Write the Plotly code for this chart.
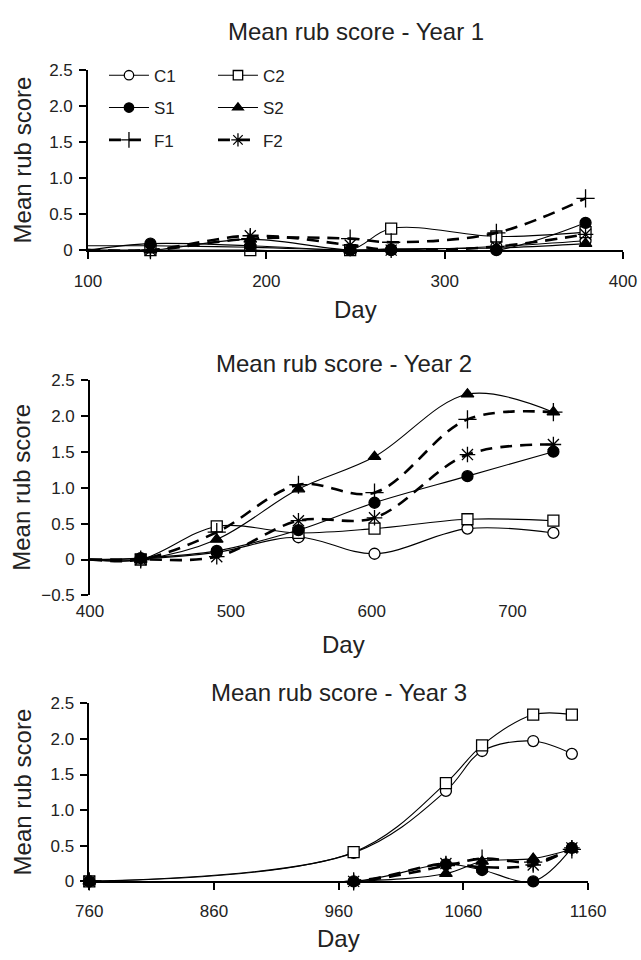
import plotly.graph_objects as go

# ---------------- data ----------------
series_names = ["C1", "C2", "S1", "S2", "F1", "F2"]

# Year 1
days_y1 = [100, 135, 191, 247, 270, 329, 379]
c1_y1 = [0.06, 0.06, 0.04, 0.00, 0.00, 0.05, 0.13]
c2_y1 = [0.00, 0.00, 0.00, 0.00, 0.30, 0.19, 0.25]
s1_y1 = [0.00, 0.09, 0.06, 0.00, 0.01, 0.00, 0.38]
s2_y1 = [0.00, 0.00, 0.15, 0.00, 0.02, 0.03, 0.09]
f1_y1 = [0.00, 0.00, 0.16, 0.16, 0.11, 0.24, 0.72]
f2_y1 = [0.00, 0.00, 0.20, 0.07, 0.00, 0.05, 0.22]

# Year 2
days_y2 = [400, 436, 490, 548, 602, 668, 729]
c1_y2 = [0.00, 0.01, 0.10, 0.31, 0.08, 0.43, 0.37]
c2_y2 = [0.00, 0.00, 0.46, 0.37, 0.43, 0.56, 0.54]
s1_y2 = [0.00, 0.02, 0.12, 0.41, 0.79, 1.16, 1.50]
s2_y2 = [0.00, 0.00, 0.28, 0.98, 1.43, 2.30, 2.05]
f1_y2 = [0.00, 0.00, 0.38, 1.04, 0.93, 1.95, 2.05]
f2_y2 = [0.00, 0.00, 0.04, 0.54, 0.58, 1.46, 1.60]

# Year 3
days_y3 = [760, 972, 1046, 1075, 1116, 1147]
c1_y3 = [0.00, 0.40, 1.27, 1.83, 1.97, 1.79]
c2_y3 = [0.00, 0.41, 1.38, 1.91, 2.34, 2.34]
s1_y3 = [0.00, 0.00, 0.24, 0.16, 0.00, 0.47]
s2_y3 = [0.00, 0.00, 0.11, 0.28, 0.32, 0.45]
f1_y3 = [0.00, 0.00, 0.22, 0.32, 0.27, 0.45]
f2_y3 = [0.00, 0.00, 0.25, 0.20, 0.23, 0.47]

panel_titles = ["Mean rub score - Year 1", "Mean rub score - Year 2", "Mean rub score - Year 3"]
x_title = "Day"
y_title = "Mean rub score"

x1_ticks = [100, 200, 300, 400]
x2_ticks = [400, 500, 600, 700]
x3_ticks = [760, 860, 960, 1060, 1160]
y_ticks = [0, 0.5, 1.0, 1.5, 2.0, 2.5]
y_ticktext = ["0", "0.5", "1.0", "1.5", "2.0", "2.5"]
y2_ticks = [-0.5, 0, 0.5, 1.0, 1.5, 2.0, 2.5]
y2_ticktext = ["\u22120.5", "0", "0.5", "1.0", "1.5", "2.0", "2.5"]

# ---------------- styling ----------------
W, H = 641, 960
ML, MR = 88, 17
PW = W - ML - MR
FONT = "Liberation Sans, Arial, sans-serif"
TICKF = 17
BIGF = 24

styles = {
    "C1": dict(symbol="circle", fill="#ffffff", dash="solid", lw=1.1, size=11),
    "C2": dict(symbol="square", fill="#ffffff", dash="solid", lw=1.1, size=11),
    "S1": dict(symbol="circle", fill="#000000", dash="solid", lw=1.1, size=11),
    "S2": dict(symbol="triangle-up", fill="#000000", dash="solid", lw=1.1, size=11),
    "F1": dict(symbol="cross-thin", fill="#000000", dash="12px,8px", lw=2.6, size=13),
    "F2": dict(symbol="asterisk", fill="#000000", dash="12px,8px", lw=2.6, size=13),
}
legend_of = {"C1": "legend", "C2": "legend", "S1": "legend2", "S2": "legend2",
             "F1": "legend3", "F2": "legend3"}

years = [
    (days_y1, [c1_y1, c2_y1, s1_y1, s2_y1, f1_y1, f2_y1], "x", "y", False),
    (days_y2, [c1_y2, c2_y2, s1_y2, s2_y2, f1_y2, f2_y2], "x2", "y2", False),
    (days_y3, [c1_y3, c2_y3, s1_y3, s2_y3, f1_y3, f2_y3], "x3", "y3", True),
]

fig = go.Figure()
for yi, (days, vals, xa, ya, first_marker) in enumerate(years):
    for name, v in zip(series_names, vals):
        st = styles[name]
        sizes = [st["size"]] * len(days)
        if not first_marker:
            sizes[0] = 0
        fig.add_trace(go.Scatter(
            x=days, y=v, xaxis=xa, yaxis=ya, name=name,
            mode="lines+markers",
            line=dict(color="#000000", width=st["lw"], dash=st["dash"], shape="spline", smoothing=1.0),
            marker=dict(symbol=st["symbol"], size=sizes, color=st["fill"], opacity=1,
                        line=dict(color="#000000", width=1.3)),
            opacity=1,
            cliponaxis=False,
            showlegend=(yi == 0),
            legend=legend_of[name],
        ))

def px_x(px):
    return (px - ML) / PW

def px_y(py):
    return 1 - py / H

# domains (pixel-derived)
d1x = [px_x(88), px_x(624)]
d2x = [px_x(90), px_x(598)]
d3x = [px_x(89.3), px_x(589)]
d1y = [px_y(246), px_y(62.7)]
d2y = [px_y(598.3), px_y(378.3)]
d3y = [px_y(890), px_y(708.3)]

axis_common = dict(showgrid=False, zeroline=False, linecolor="black", linewidth=1.6,
                   tickcolor="black", tickwidth=1.6, ticklen=7, ticks="outside",
                   tickfont=dict(size=TICKF, color="#222", family=FONT))

zero2 = d2y[0] + (0 - (-0.5)) / 3.0 * (d2y[1] - d2y[0])

fig.update_layout(
    width=W, height=H,
    margin=dict(l=ML, r=MR, t=0, b=0),
    paper_bgcolor="white", plot_bgcolor="white",
    font=dict(family=FONT, color="#222"),
    xaxis=dict(domain=d1x, range=[100, 400], tickvals=x1_ticks, anchor="y",
               showline=True, ticklabelstandoff=8, **axis_common),
    yaxis=dict(domain=d1y, range=[0, 2.5], tickvals=y_ticks, ticktext=y_ticktext,
               anchor="x", showline=True, ticklabelstandoff=3, **axis_common),
    xaxis2=dict(domain=d2x, range=[400, 760], tickvals=x2_ticks, anchor="y2",
                showline=False, ticklabelstandoff=4,
                **{**axis_common, "ticks": ""}),
    xaxis4=dict(domain=d2x, range=[400, 760], tickvals=x2_ticks, overlaying="x2",
                anchor="free", position=zero2, showline=True, showticklabels=False,
                **axis_common),
    yaxis2=dict(domain=d2y, range=[-0.5, 2.5], tickvals=y2_ticks, ticktext=y2_ticktext,
                anchor="x2", showline=True, ticklabelstandoff=3, **axis_common),
    xaxis3=dict(domain=d3x, range=[760, 1160], tickvals=x3_ticks, anchor="y3",
                showline=True, ticklabelstandoff=6, **axis_common),
    yaxis3=dict(domain=d3y, range=[0, 2.5], tickvals=y_ticks, ticktext=y_ticktext,
                anchor="x3", showline=True, ticklabelstandoff=3, **axis_common),
)

leg_common = dict(orientation="h", xref="paper", yref="paper", xanchor="left", yanchor="middle",
                  bgcolor="rgba(0,0,0,0)", font=dict(size=TICKF, family=FONT, color="#222"),
                  entrywidth=54, entrywidthmode="pixels", itemwidth=40, tracegroupgap=0)
fig.update_layout(
    legend=dict(x=px_x(104), y=px_y(68), **leg_common),
    legend2=dict(x=px_x(104), y=px_y(101), **leg_common),
    legend3=dict(x=px_x(104), y=px_y(134), **leg_common),
)

# panel titles and axis titles
title_y = [23, 362, 697]
day_y = [307, 648, 948]
ycen = [(246 + 62.7) / 2, (598.3 + 378.3) / 2, (890 + 708.3) / 2]
xdoms = [d1x, d2x, d3x]
for i in range(3):
    xc = (xdoms[i][0] + xdoms[i][1]) / 2
    fig.add_annotation(text=panel_titles[i], x=xc, y=px_y(title_y[i]), xref="paper", yref="paper",
                       showarrow=False, xanchor="center", yanchor="middle",
                       font=dict(size=BIGF, family=FONT, color="#222"))
    fig.add_annotation(text=x_title, x=xc, y=px_y(day_y[i]), xref="paper", yref="paper",
                       showarrow=False, xanchor="center", yanchor="middle",
                       font=dict(size=BIGF, family=FONT, color="#222"))
    fig.add_annotation(text=y_title, x=px_x(22), y=px_y(ycen[i]), xref="paper", yref="paper",
                       showarrow=False, xanchor="center", yanchor="middle", textangle=-90,
                       font=dict(size=BIGF, family=FONT, color="#222"))

fig.write_html("out.html",
               config={"displayModeBar": False},
               post_script="document.body.style.margin='0';document.body.style.overflow='hidden';")
